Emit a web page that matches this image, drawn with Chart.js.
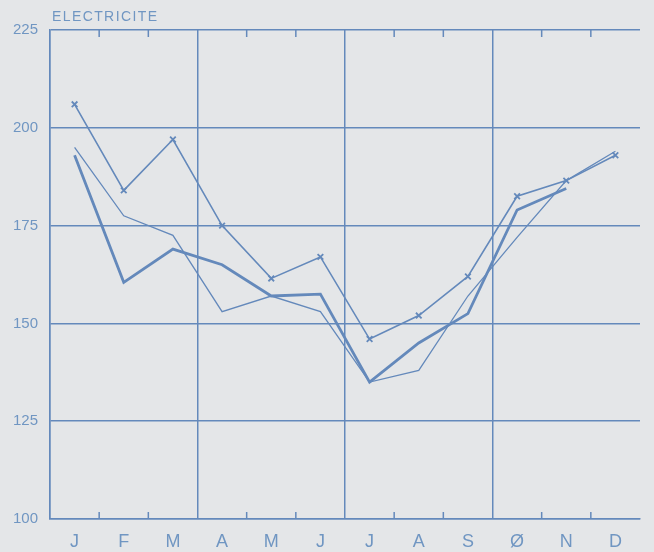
<!DOCTYPE html>
<html>
<head>
<meta charset="utf-8">
<script src="https://cdn.jsdelivr.net/npm/chart.js@4.4.1/dist/chart.umd.min.js"></script>
<style>
  html, body { margin: 0; padding: 0; background: #e4e6e8; }
  #wrap { width: 654px; height: 552px; }
</style>
</head>
<body>
<div id="wrap"><canvas id="chart" width="654" height="552"></canvas></div>
<script>
    "use strict";

    // Donnees
    var months = ["J", "F", "M", "A", "M", "J", "J", "A", "S", "Ø", "N", "D"];
    var serieCroix = [206, 184, 197, 175, 161.5, 167, 146, 152, 162, 182.5, 186.5, 193];
    var serieEpaisse = [193, 160.5, 169, 165, 157, 157.5, 135, 145, 152.5, 179, 184.5, null];
    var serieFine = [195, 177.5, 172.5, 153, 157, 153, 135, 138, 157, 172, 186.5, 194];
    var yTicks = [100, 125, 150, 175, 200, 225];
    var titre = "ELECTRICITE";

    var bleu = "#6489bb";
    var texte = "#7096c2";
    var fond = "#e4e6e8";

    // Fond, titre et petits traits interieurs
    var decor = {
        id: "decor",
        beforeDraw: function (chart) {
            var ctx = chart.ctx;
            ctx.save();
            ctx.fillStyle = fond;
            ctx.fillRect(0, 0, chart.width, chart.height);
            ctx.restore();
        },
        afterDraw: function (chart) {
            var ctx = chart.ctx;
            var area = chart.chartArea;
            var x = chart.scales.x;
            ctx.save();
            ctx.strokeStyle = bleu;
            ctx.lineWidth = 1.5;
            for (var i = 1; i < months.length; i++) {
                if (i % 3 === 0) continue;
                var px = (x.getPixelForValue(i - 1) + x.getPixelForValue(i)) / 2;
                ctx.beginPath();
                ctx.moveTo(px, area.top);
                ctx.lineTo(px, area.top + 7);
                ctx.moveTo(px, area.bottom);
                ctx.lineTo(px, area.bottom - 7);
                ctx.stroke();
            }
            ctx.fillStyle = texte;
            ctx.font = "14px 'Liberation Sans'";
            ctx.letterSpacing = "1.4px";
            ctx.textBaseline = "alphabetic";
            ctx.fillText(titre, area.left + 2, 21);
            ctx.restore();
        }
    };

    var ctx1 = document.getElementById("chart").getContext("2d");
    var myChart = new Chart(ctx1, {
        type: "line",
        data: {
            labels: months,
            datasets: [{
                    data: serieCroix,
                    borderColor: bleu,
                    borderWidth: 1.6,
                    pointStyle: "crossRot",
                    pointRadius: 4,
                    pointBorderWidth: 1.8,
                    pointBorderColor: bleu,
                    tension: 0
                },
                {
                    data: serieEpaisse,
                    borderColor: bleu,
                    borderWidth: 2.8,
                    pointRadius: 0,
                    tension: 0
                },
                {
                    data: serieFine,
                    borderColor: bleu,
                    borderWidth: 1.3,
                    pointRadius: 0,
                    tension: 0
                }
            ]
        },
        options: {
            responsive: false,
            animation: false,
            layout: { padding: { top: 30, right: 14, left: 0, bottom: 0 } },
            plugins: {
                legend: { display: false },
                tooltip: { enabled: false }
            },
            scales: {
                x: {
                    offset: true,
                    grid: {
                        offset: true,
                        drawTicks: false,
                        lineWidth: 1.5,
                        color: function (c) {
                            return c.index % 3 === 0 ? bleu : "rgba(0,0,0,0)";
                        }
                    },
                    border: { color: bleu, width: 1.5 },
                    ticks: {
                        color: texte,
                        padding: 12,
                        font: { family: "'Liberation Sans'", size: 18 },
                        maxRotation: 0,
                        autoSkip: false
                    },
                    afterFit: function (scale) { scale.height = 33; }
                },
                y: {
                    min: 100,
                    max: 225,
                    afterBuildTicks: function (scale) {
                        scale.ticks = yTicks.map(function (v) { return { value: v }; });
                    },
                    grid: { color: bleu, lineWidth: 1.5, drawTicks: false },
                    border: { color: bleu, width: 1.5 },
                    ticks: {
                        color: texte,
                        padding: 12,
                        font: { family: "'Liberation Sans'", size: 15 }
                    },
                    afterFit: function (scale) { scale.width = 50; }
                }
            }
        },
        plugins: [decor]
    });
</script>
</body>
</html>
